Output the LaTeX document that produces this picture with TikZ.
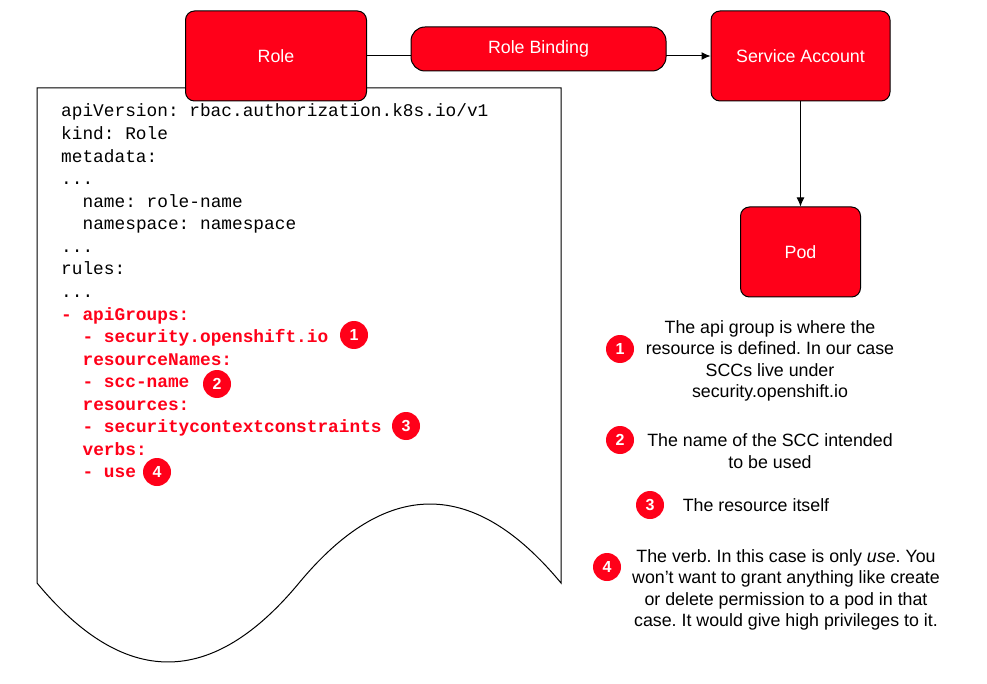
\documentclass[tikz,border=0pt]{standalone}
\usepackage{fontspec}
\setmainfont{Liberation Sans}
\newfontfamily\codefont{Liberation Mono}
\usetikzlibrary{positioning,arrows.meta}
\definecolor{sccred}{HTML}{FF0019}

\tikzset{
  redbox/.style={draw=black, fill=sccred, text=white, rounded corners=9pt, line width=1pt,
    inner sep=0pt, font=\fontsize{17.8}{21}\selectfont},
  codeline/.style={anchor=base west, inner sep=0pt, font=\codefont\fontsize{17.8}{22}\selectfont},
  redline/.style={codeline, text=sccred, font=\codefont\bfseries\fontsize{17.8}{22}\selectfont},
  num/.style={circle, fill=sccred, text=white, minimum size=28pt, inner sep=0pt,
    font=\bfseries\fontsize{16}{16}\selectfont},
  note/.style={align=center, inner sep=0pt, font=\fontsize{17.8}{21.4}\selectfont},
}

\begin{document}
\frenchspacing
\begin{tikzpicture}[x=1pt,y=-1pt]
\tikzset{>={Latex[length=9pt,width=8pt]}}
\useasboundingbox (0,0) rectangle (987,684);

% the yaml sheet
\draw[line width=1pt, fill=white] (37,88) -- (561,88) -- (561,583)
  .. controls (473.7,477.7) and (386.3,477.7) .. (299,583)
  .. controls (211.7,688.3) and (124.3,688.3) .. (37,583) -- cycle;

\node[codeline] (l0) at (61,117) {apiVersion: rbac.authorization.k8s.io/v1};
\node[codeline] (l1) at (61,139.56) {kind: Role};
\node[codeline] (l2) at (61,162.12) {metadata:};
\node[codeline] (l3) at (61,184.68) {...};
\node[codeline] (l4) at (82.4,207.24) {name: role-name};
\node[codeline] (l5) at (82.4,229.8) {namespace: namespace};
\node[codeline] (l6) at (61,252.36) {...};
\node[codeline] (l7) at (61,274.92) {rules:};
\node[codeline] (l8) at (61,297.48) {...};
\node[redline] (l9) at (61,320.04) {- apiGroups:};
\node[redline] (l10) at (82.4,342.6) {- security.openshift.io};
\node[redline] (l11) at (82.4,365.16) {resourceNames:};
\node[redline] (l12) at (82.4,387.72) {- scc-name};
\node[redline] (l13) at (82.4,410.28) {resources:};
\node[redline] (l14) at (82.4,432.84) {- securitycontextconstraints};
\node[redline] (l15) at (82.4,455.4) {verbs:};
\node[redline] (l16) at (82.4,477.96) {- use};

% markers in the code
\node[num] (m1) at (354,335) {1};
\node[num] (m2) at (217,384) {2};
\node[num] (m3) at (406,426) {3};
\node[num] (m4) at (157,472) {4};

% boxes
\node[redbox, minimum width=181pt, minimum height=90pt] (role) at (276,56) {Role};
\node[redbox, minimum width=179pt, minimum height=90pt] (sa) at (800.5,56) {Service Account};
\node[redbox, minimum width=120pt, minimum height=90pt, below=105pt of sa] (pod) {Pod};

\draw[line width=1pt,->] (role) -- (sa);
\draw[line width=1pt,->] (sa) -- (pod);

\node[redbox, rounded corners=14pt, minimum width=255pt, minimum height=44pt] (rb) at (538.5,49) {Role Binding};

% explanations
\node[num] (k1) at (620,349) {1};
\node[note] (n1) at (770,361) {The api group is where the\\resource is defined. In our case\\SCCs live under\\security.openshift.io};
\node[num] (k2) at (620,440) {2};
\node[note] (n2) at (770,451) {The name of the SCC intended\\to be used};
\node[num] (k3) at (650,505) {3};
\node[note] (n3) at (756,505) {The resource itself};
\node[num] (k4) at (607,567) {4};
\node[note] (n4) at (786,590) {The verb. In this case is only \textit{use}. You\\won't want to grant anything like create\\or delete permission to a pod in that\\case. It would give high privileges to it.};

\end{tikzpicture}
\end{document}
